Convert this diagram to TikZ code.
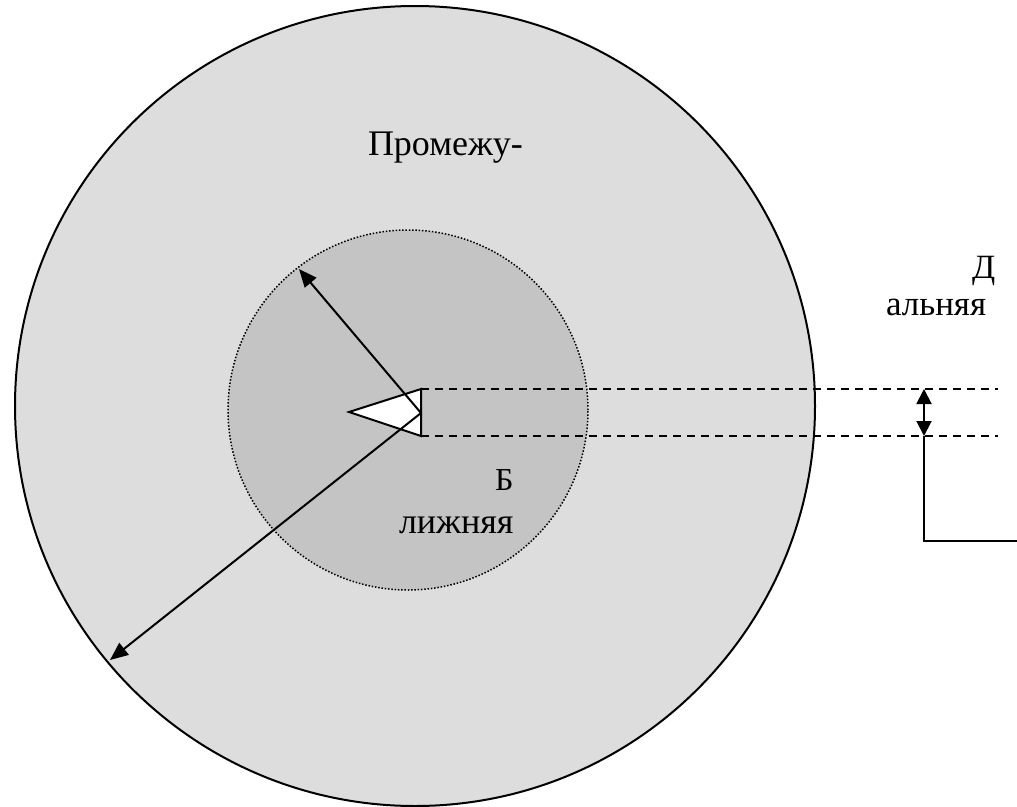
\documentclass[tikz,border=0pt]{standalone}
\usepackage{fontspec}
\setmainfont{Liberation Serif}
\usetikzlibrary{arrows.meta}
\definecolor{zonefar}{HTML}{DDDDDD}
\definecolor{zonenear}{HTML}{C4C4C4}

\begin{document}
\begin{tikzpicture}[x=1pt,y=-1pt,>={Triangle[length=18pt,width=15pt]},line width=2pt,
  lbl/.style={inner sep=0pt,anchor=base west}]
\useasboundingbox (0,0) rectangle (1017,806);
% zones
\fill[zonefar] (415,406) circle (400pt);
\draw (415,406) circle (400pt);
\fill[zonenear] (408,410) circle (180pt);
\draw[line width=1.5pt,dash pattern=on 1.5pt off 1.8pt] (408,410) circle (180pt);
% points
\coordinate (src) at (421,413);
\coordinate (nearEdge) at (299,269);
\coordinate (farEdge) at (110,660);
\coordinate (tipL) at (349,412);
\coordinate (tipT) at (421,389);
\coordinate (tipB) at (421,436);
\coordinate (topEnd) at (998,389);
\coordinate (botEnd) at (998,436);
\coordinate (gapT) at (924,389);
\coordinate (gapB) at (924,436);
\coordinate (bend) at (924,541);
\coordinate (outEnd) at (1017,541);
% antenna
\filldraw[fill=white] (tipL) -- (tipT) -- (tipB) -- cycle;
\draw[->] (src) -- (nearEdge);
\draw[->] (src) -- (farEdge);
% beam
\draw[dash pattern=on 8pt off 6pt] (tipT) -- (topEnd);
\draw[dash pattern=on 8pt off 6pt] (tipB) -- (botEnd);
\draw[<->,>={Triangle[length=15pt,width=15pt]}] (gapT) -- (gapB);
\draw (gapB) -- (bend) -- (outEnd);
% labels
\node[lbl,font=\fontsize{36}{40}\selectfont] (midA) at (367,155) {Промежу-};
\node[lbl,font=\fontsize{34}{38}\selectfont] (farA) at (971,278) {Д};
\node[lbl,font=\fontsize{35}{38}\selectfont] (farB) at (885,315) {альняя};
\node[lbl,font=\fontsize{32}{35}\selectfont] (nearA) at (494,490) {Б};
\node[lbl,font=\fontsize{36}{40}\selectfont] (nearB) at (398,533) {лижняя};
\end{tikzpicture}
\end{document}
